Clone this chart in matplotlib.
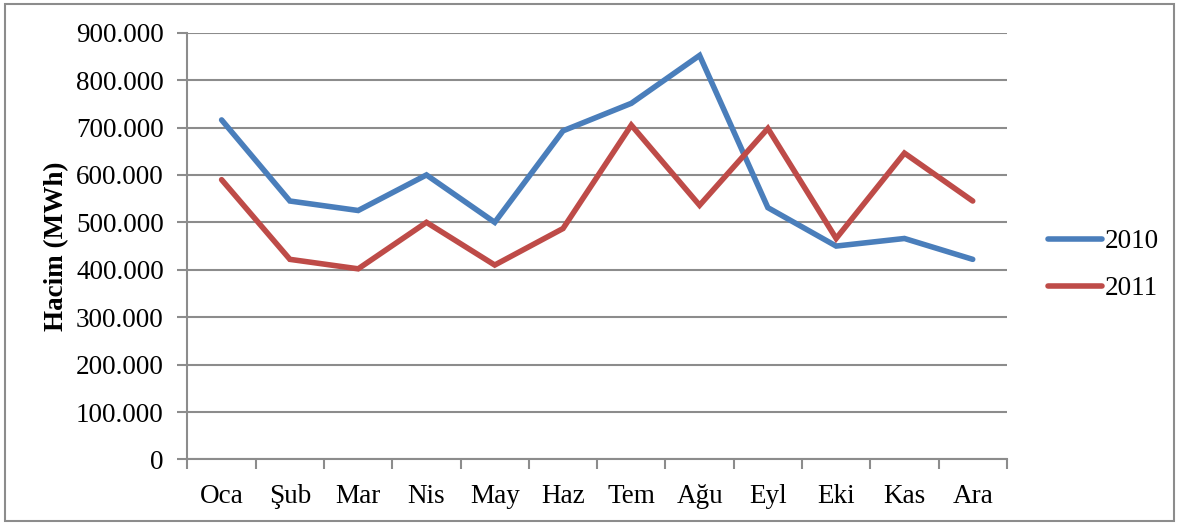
import matplotlib
matplotlib.use("Agg")
import matplotlib.pyplot as plt
from matplotlib.patches import Rectangle
from matplotlib.ticker import FuncFormatter

plt.rcParams['font.family'] = ['Liberation Serif', 'DejaVu Serif']

months = ['Oca', 'Şub', 'Mar', 'Nis', 'May', 'Haz', 'Tem', 'Ağu', 'Eyl', 'Eki', 'Kas', 'Ara']
v2010 = [716000, 545000, 525000, 600000, 500000, 693000, 751000, 852000, 531000, 450000, 466000, 422000]
v2011 = [590000, 422000, 402000, 500000, 410000, 487000, 705000, 536000, 698000, 466000, 646000, 545000]

grid_c = '#8c8c8c'

fig = plt.figure(figsize=(11.79, 5.25), dpi=100)
ax = fig.add_axes([0.159, 0.1248, 0.695, 0.813])

x = list(range(len(months)))
ax.plot(x, v2010, color='#4a7ebb', lw=4.0, label='2010', solid_capstyle='round', solid_joinstyle='miter')
ax.plot(x, v2011, color='#be4b48', lw=4.0, label='2011', solid_capstyle='round', solid_joinstyle='miter')

ax.set_xlim(-0.5, 11.5)
ax.set_ylim(0, 900000)
ax.set_yticks(range(0, 900001, 100000))
ax.yaxis.set_major_formatter(FuncFormatter(lambda v, p: '0' if v == 0 else f'{int(v):,}'.replace(',', '.')))
ax.grid(axis='y', color=grid_c, lw=1.5)
ax.set_axisbelow(True)

ax.set_xticks([i - 0.5 for i in range(13)])
ax.set_xticklabels([])
ax.set_xticks(x, minor=True)
ax.set_xticklabels(months, minor=True)
ax.tick_params(axis='x', which='minor', length=0, pad=18, labelsize=19.5)
ax.tick_params(axis='x', which='major', length=7, width=1.5, color=grid_c)
ax.tick_params(axis='y', length=7, width=1.5, color=grid_c, labelsize=19.5, pad=10)

for s in ['top', 'right']:
    ax.spines[s].set_visible(False)
for s in ['left', 'bottom']:
    ax.spines[s].set_color(grid_c)
    ax.spines[s].set_linewidth(1.5)

ax.set_ylabel('Hacim (MWh)', fontsize=19.5, fontweight='bold', labelpad=5)

ax.legend(loc='center left', bbox_to_anchor=(1.02, 0.455), frameon=False, fontsize=19.5,
          handlelength=2.0, handletextpad=0.1, labelspacing=0.8)

fig.patches.append(Rectangle((0.004, 0.008), 0.992, 0.985, transform=fig.transFigure,
                             fill=False, edgecolor='#8c8c8c', lw=1.5))

fig.savefig('out.png', dpi=100)
